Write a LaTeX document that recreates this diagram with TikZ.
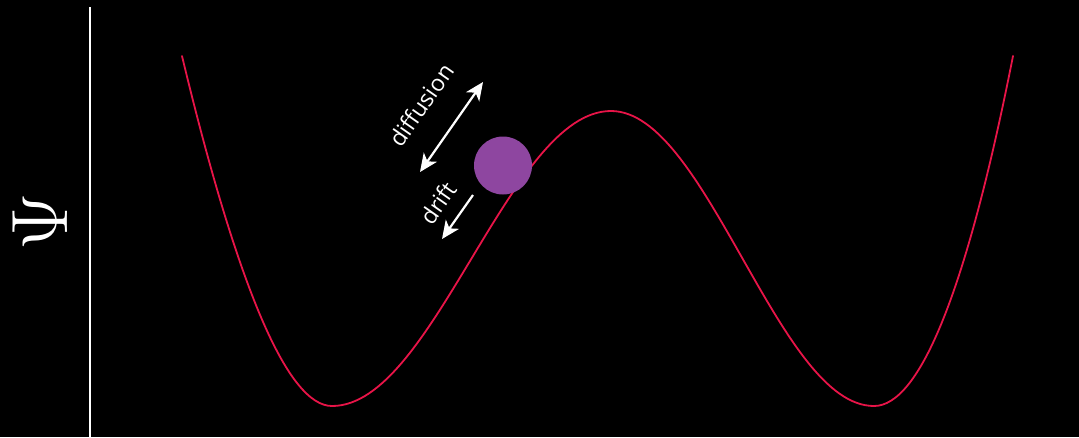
\RequirePackage{fix-cm}
\documentclass[tikz,border=0pt]{standalone}
\usepackage{fontspec}
\newfontfamily\labelfont{Open Sans}
\usetikzlibrary{arrows.meta}
\definecolor{wellred}{RGB}{232,20,72}
\definecolor{ballpurple}{RGB}{142,70,160}
\tikzset{
  curve/.style={draw=wellred, line width=1.8pt, line cap=round},
  axisline/.style={draw=white, line width=2pt},
  forcearrow/.style={draw=white, line width=2.2pt, -{Stealth[length=18pt,width=16pt,inset=5pt]}},
  bothways/.style={draw=white, line width=2.2pt, {Stealth[length=18pt,width=16pt,inset=5pt]}-{Stealth[length=18pt,width=16pt,inset=5pt]}},
  lbl/.style={text=white, font=\labelfont\fontsize{23}{23}\selectfont, inner sep=0pt, rotate=55},
}
\begin{document}
\begin{tikzpicture}[x=1pt,y=-1pt]
\fill[black] (0,0) rectangle (1079,437);
\useasboundingbox (0,0) rectangle (1079,437);
% axis
\coordinate (axtop) at (90,7);
\coordinate (axbot) at (90,437);
\draw[axisline] (axtop) -- (axbot);
\node[text=white, inner sep=0pt, rotate=90] (psi) at (40,222) {\fontsize{80}{80}\selectfont$\Psi$};
% potential curve
\draw[curve] (182,56) .. controls (238,289) and (288,406) .. (332,406)
  cos (471.5,258.5) sin (611,111) cos (742.5,258.5) sin (874,406)
  .. controls (920,406) and (967,289) .. (1013,56);
% ball
\node[circle, fill=ballpurple, minimum size=58pt, inner sep=0pt] (ball) at (503,165.5) {};
% diffusion arrow
\coordinate (dA) at (420,172);
\coordinate (dB) at (483,82);
\draw[bothways] (dA) -- (dB);
\node[lbl] (diff) at (421,105) {diffusion};
% drift arrow
\coordinate (rA) at (473,195);
\coordinate (rB) at (442,239);
\draw[forcearrow] (rA) -- (rB);
\node[lbl] (drift) at (438,203) {drift};
\end{tikzpicture}
\end{document}
